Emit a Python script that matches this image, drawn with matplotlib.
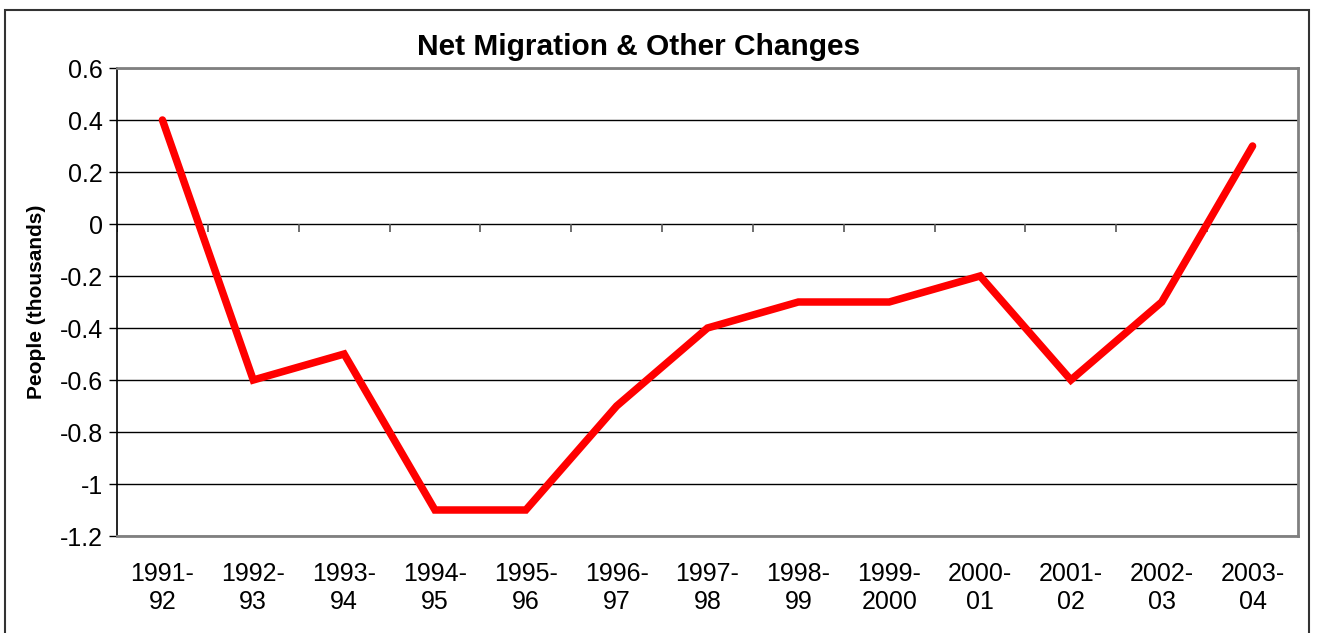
import numpy as np
import matplotlib.pyplot as plt
from matplotlib.patches import Rectangle

plt.rcParams['font.family'] = ['Liberation Sans', 'DejaVu Sans']

periods = ['1991-\n92', '1992-\n93', '1993-\n94', '1994-\n95', '1995-\n96', '1996-\n97',
           '1997-\n98', '1998-\n99', '1999-\n2000', '2000-\n01', '2001-\n02', '2002-\n03',
           '2003-\n04']
net_migration = [0.4, -0.6, -0.5, -1.1, -1.1, -0.7, -0.4, -0.3, -0.3, -0.2, -0.6, -0.3, 0.3]
yticks = [0.6, 0.4, 0.2, 0, -0.2, -0.4, -0.6, -0.8, -1, -1.2]

W, H = 1317, 633
fig = plt.figure(figsize=(W / 100, H / 100), dpi=100)
ax = fig.add_axes([117 / W, 1 - 536 / H, (1298 - 117) / W, (536 - 68) / H])

x = np.arange(len(periods))

# gridlines
for yv in yticks:
    ax.axhline(yv, color='black', lw=1.0, zorder=1)

# category boundary ticks on the zero line
bounds = np.arange(len(periods) + 1) - 0.5
ax.vlines(bounds, 0, -0.03, color='#555555', lw=1.2, zorder=1)

ax.plot(x, net_migration, color='#ff0000', lw=5.4, solid_capstyle='round',
        solid_joinstyle='miter', zorder=3)

ax.set_xlim(-0.5, len(periods) - 0.5)
ax.set_ylim(-1.2, 0.6)
ax.set_yticks(yticks)
ax.set_yticklabels([('%g' % v) for v in yticks], fontsize=18)
ax.set_xticks(x)
ax.set_xticklabels(periods, fontsize=18, linespacing=1.2)
ax.tick_params(axis='x', length=0, pad=19)
ax.tick_params(axis='y', length=6, width=1, direction='out', pad=4)

for s in ['top', 'right', 'bottom']:
    ax.spines[s].set_color('#808080')
    ax.spines[s].set_linewidth(2)
ax.spines['left'].set_color('black')
ax.spines['left'].set_linewidth(1.2)

ax.set_ylabel('People (thousands)', fontsize=15, fontweight='bold')
ax.yaxis.set_label_coords(-71 / (1298 - 117), 0.5)

fig.text(639 / W, 1 - 47 / H, 'Net Migration & Other Changes', fontsize=21.5,
         fontweight='bold', ha='center', va='center')

# outer chart border
fig.patches.append(Rectangle((5 / W, -0.02), (1309 - 5) / W, 1.02 - 10 / H,
                             transform=fig.transFigure, fill=False,
                             edgecolor='#333333', lw=1.5))

fig.savefig('out.png', dpi=100)
